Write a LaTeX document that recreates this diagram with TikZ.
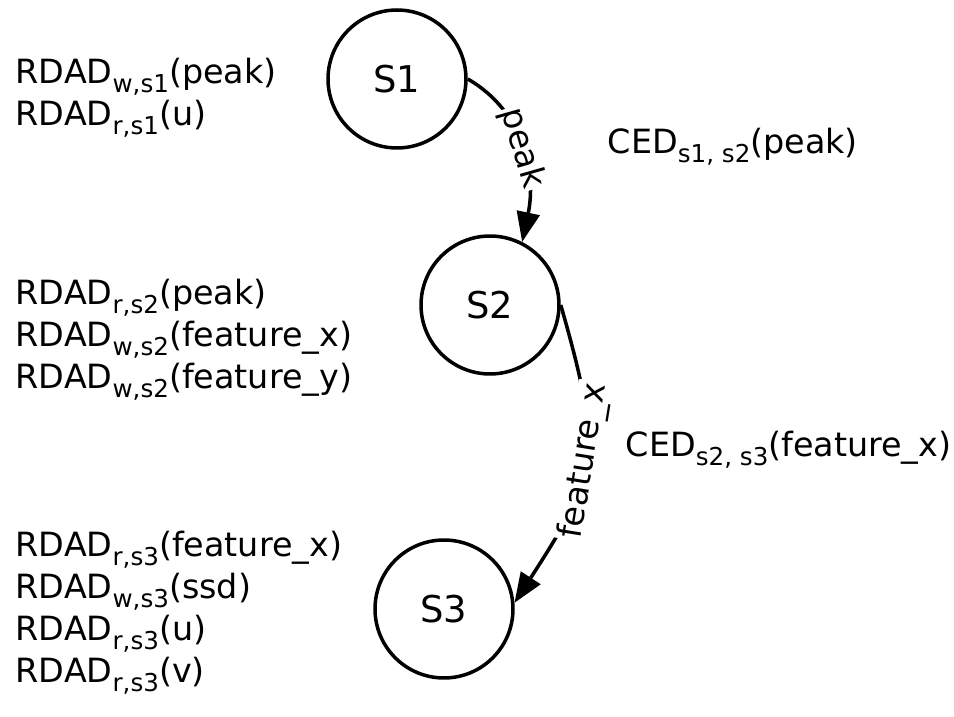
\documentclass[tikz,border=0pt]{standalone}
\usepackage{fontspec}
\setmainfont{DejaVu Sans}
\usetikzlibrary{arrows.meta}

\newcommand{\sbs}[1]{\raisebox{-5pt}{\fontsize{14}{14}\selectfont #1}}

\begin{document}
\begin{tikzpicture}
	[x=0.02cm, y=0.02cm, line width=2pt,
	 state/.style={circle, draw, minimum size=2.76cm, inner sep=0pt, font=\fontsize{21}{24}\selectfont},
	 txt/.style={anchor=base west, inner sep=0pt, font=\fontsize{19}{22}\selectfont},
	 elbl/.style={sloped, fill=white, inner sep=1pt, font=\fontsize{19}{22}\selectfont},
	 trans/.style={-{Triangle[length=17pt, width=13pt]}}]
	\useasboundingbox (0,0) rectangle (954,717);

	% states
	\node[state] (s1) at (397,638) {S1};
	\node[state] (s2) at (490,412) {S2};
	\node[state] (s3) at (444,108) {S3};

	% transitions
	\draw[trans] (s1.0) to[out=-30, in=78] node[elbl] {peak} (s2.63);
	\draw[trans] (s2.0) to[out=-74, in=57, looseness=1.3] node[elbl] {feature\_x} (s3.5);

	% accesses of s1
	\node[txt] (a11) at (14,633) {RDAD\sbs{w,s1}(peak)};
	\node[txt] (a12) at (14,591) {RDAD\sbs{r,s1}(u)};
	% accesses of s2
	\node[txt] (a21) at (14,412) {RDAD\sbs{r,s2}(peak)};
	\node[txt] (a22) at (14,370) {RDAD\sbs{w,s2}(feature\_x)};
	\node[txt] (a23) at (14,328) {RDAD\sbs{w,s2}(feature\_y)};
	% accesses of s3
	\node[txt] (a31) at (14,160) {RDAD\sbs{r,s3}(feature\_x)};
	\node[txt] (a32) at (14,118) {RDAD\sbs{w,s3}(ssd)};
	\node[txt] (a33) at (14,76) {RDAD\sbs{r,s3}(u)};
	\node[txt] (a34) at (14,34) {RDAD\sbs{r,s3}(v)};

	% edges
	\node[txt] (c12) at (606,563) {CED\sbs{s1, s2}(peak)};
	\node[txt] (c23) at (624,260) {CED\sbs{s2, s3}(feature\_x)};
\end{tikzpicture}
\end{document}
